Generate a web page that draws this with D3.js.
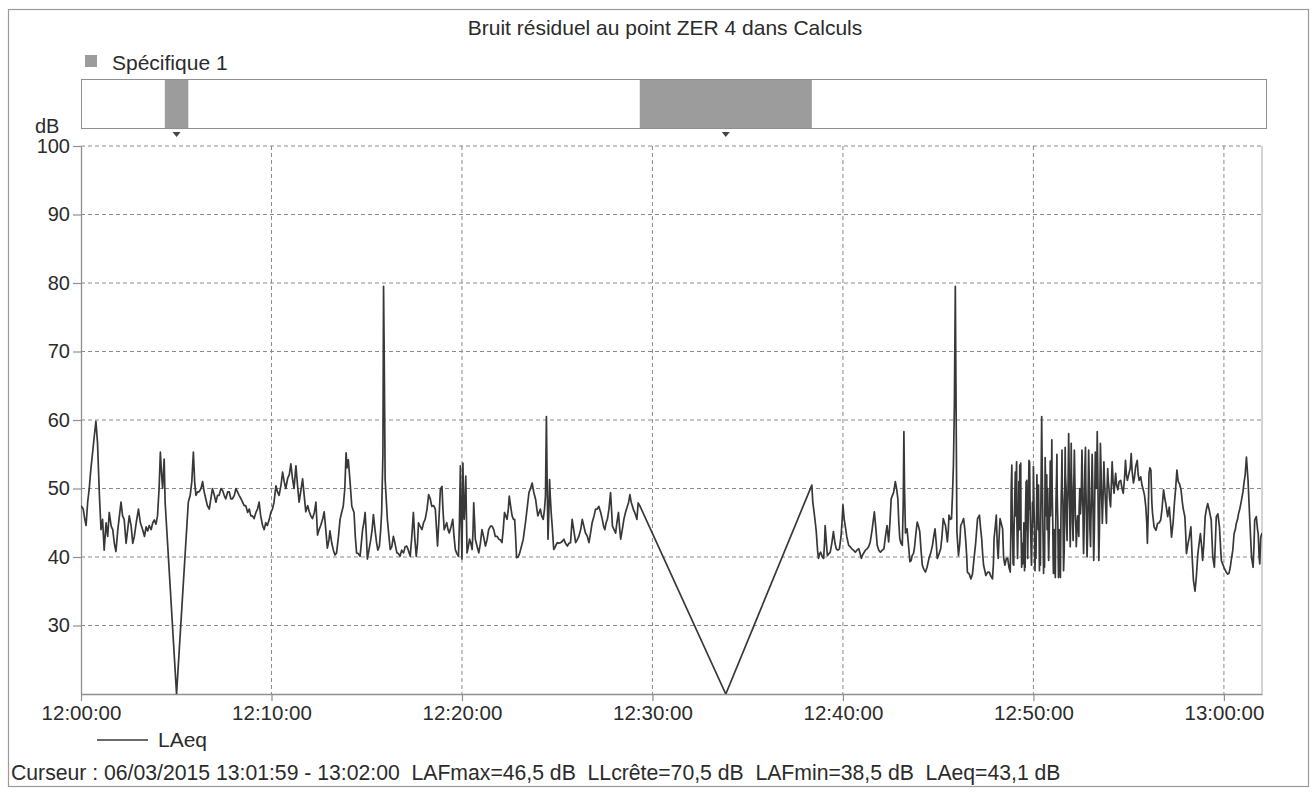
<!DOCTYPE html>
<html>
<head>
<meta charset="utf-8">
<script src="https://cdn.jsdelivr.net/npm/d3@7/dist/d3.min.js"></script>
<style>
  html, body { margin: 0; padding: 0; background: #fff; }
  svg { display: block; }
  text { font-family: "Liberation Sans", Arial, sans-serif; fill: #2b2b2b; }
</style>
</head>
<body>
<svg id="chart" width="1314" height="792"></svg>
<script>
// ---- Data ----------------------------------------------------------------
const chartTitle = "Bruit résiduel au point ZER 4 dans Calculs";
const seriesName = "LAeq";
const periodName = "Spécifique 1";
const cursorText = "Curseur : 06/03/2015 13:01:59 - 13:02:00  LAFmax=46,5 dB  LLcrête=70,5 dB  LAFmin=38,5 dB  LAeq=43,1 dB";

// time axis in seconds after 12:00:00
const timeDomain = [0, 3720];
const timeTicks = [0, 600, 1200, 1800, 2400, 3000, 3600];
const timeLabels = ["12:00:00", "12:10:00", "12:20:00", "12:30:00", "12:40:00", "12:50:00", "13:00:00"];

// level axis (dB)
const levelDomain = [20, 100];
const levelTicks = [30, 40, 50, 60, 70, 80, 90, 100];

// "Spécifique 1" coded periods [start s, end s]
const specificPeriods = [[264, 338], [1760, 2302]];

// LAeq trace: [seconds after 12:00:00, dB]
const laeq = [
  [0,47.5],[7,47],[12,45.5],[16,44.6],[21,48],[26,50],[31,52.8],[36,55],[42,57.7],[47,59.8],[52,56.7],[58,49],[63,44],[68,45.5],[73,41],[79,45],[84,43],[89,46.5],[95,44.5],[100,44],[105,42],[110,40.8],[116,44],[121,46],[126,48],[131,46],[136,45.5],[142,42],[147,44],[152,46],[158,44.5],[163,42],[168,43],[174,45],[181,47],[187,45],[194,44],[200,43],[205,44.4],[210,43.8],[215,44.6],[221,44],[226,45],[231,45.4],[236,44.8],[241,46],[246,50],[250,55.3],[254,52],[257,50],[262,54.3],[265,48],
  [301,20],
  [338,48],[344,49],[349,51],[354,55.3],[358,51],[362,49],[367,49.5],[372,49.5],[378,50],[383,51],[388,49.5],[393,48.5],[398,47.5],[404,47],[409,48.5],[414,50],[420,49],[425,48],[430,49],[435,49],[441,50],[446,49.7],[451,49],[456,48.5],[462,49.5],[467,49.5],[472,48.5],[477,48.5],[483,49],[488,50],[493,49.5],[498,49],[504,48.5],[509,48],[514,47.5],[519,47.5],[525,46.5],[530,47],[535,46],[540,46],[545,45.6],[551,46.5],[556,47],[561,48],[566,46],[572,44.6],[577,44],[582,45],[587,44.6],[593,45.5],[598,46.5],[603,47],[608,48],[614,50.4],[619,49.5],[624,49],[630,50.5],[635,52.4],[640,51],[645,50],[651,51.5],[656,52],[661,53.6],[666,51.5],[671,50],[677,53.3],[682,50.5],[687,48],[692,49.5],[698,51.4],[703,49],[708,46.6],[714,47.5],[719,46.6],[724,46],[729,45.6],[735,46.5],[740,48],[745,43.2],[750,44],[755,44.6],[761,45.5],[766,46.6],[771,44],[776,41.3],[781,42.5],
  [784,43.8],[790,42],[795,41],[800,40.3],[805,40.6],[811,43],[816,45.5],[821,46.5],[826,47.4],[831,50],[835,55.2],[838,53],[842,54.2],[847,51.3],[853,47.4],[860,46.5],[864,43],[868,40.6],[873,40.5],[879,40.1],[883,42],[887,44],[891,45],[895,46.5],[899,43],[902,39.7],[907,41],[913,42.6],[917,44],[921,46.2],[926,44],[931,42.1],[935,41],[940,41.6],[944,44],[947,46.5],[951,55],[953,79.5],[955,70],[958,51.3],[962,48],[965,45.5],[970,43],[974,41.1],[979,41.5],[984,43],[989,42],[995,40.6],[1000,40.5],[1005,40.1],[1010,41],[1016,40.6],[1021,41.5],[1026,41.6],[1031,41],[1037,40.1],[1042,43],[1047,46.5],[1051,43],[1056,40.1],[1060,42],[1063,45],[1068,44.5],[1074,44],[1079,45],[1084,45.5],[1090,47],[1095,49.1],[1100,48.5],[1105,47.4],[1111,47.5],[1116,47],[1120,44],[1123,41.6],[1127,45],[1132,49.9],[1137,50.3],[1140,47],[1144,44],[1148,44.5],[1152,45],[1156,44],[1160,43.5],[1166,44.5],[1171,45.5],[1175,43],[1179,41.1],[1184,40.5],[1189,40.1],[1192,45],[1195,53.3],[1198,44],[1200,39.7],[1203,53.7],[1205,48],[1207,45.5],[1210,49],[1212,51.8],[1214,46],[1216,40.6],[1220,41.5],[1224,42.6],[1228,42],[1232,41.1],[1235,44],[1237,47.9],[1240,45],[1242,42.6],[1248,41.5],[1253,40.6],[1258,42],[1263,44],[1268,43],[1274,41.6],[1279,42.5],[1284,44],[1290,44.5],[1295,44.5],[1300,44],[1305,43],[1311,43],[1316,42.6],[1321,42.5],[1326,42.1],[1330,44],[1334,46.5],[1338,46],[1342,45.5],[1346,47],[1349,48.9],[1353,47.5],[1358,46],[1362,45.5],[1366,45.5],[1369,43],[1372,39.9],[1377,40],[1382,40.6],[1387,41.5],[1393,42.6],[1397,44],[1400,45],[1405,47],[1411,49.4],[1416,50],[1421,50.8],[1426,49.5],[1432,48.4],[1436,47],[1439,46],[1443,46.5],[1447,47],[1451,46],[1456,45.5],[1460,47],[1463,48.9],[1466,60.5],[1468,52],[1471,42.6],[1474,47],[1476,51.3],[1478,49],[1481,46.5],[1485,44],[1489,41.1],[1494,41.5],[1500,42.1],[1505,42],[1511,42.1],[1516,42.3],[1521,42.6],[1526,42],[1532,41.6],[1537,42],[1542,42.1],[1547,45.5],[1552,44],[1558,42.1],[1563,42.5],[1568,43],[1574,44],[1579,45.5],[1584,44.5],[1589,43.5],[1595,43],[1600,42.1],[1605,43.5],[1610,45],[1616,46],[1621,47],[1626,47],[1631,47.4],[1637,46.5],[1642,45.5],[1646,44.5],[1650,44],[1654,45],[1658,45.5],[1663,47],[1668,49.4],[1671,47],[1674,44.5],[1679,44],[1684,43.5],[1688,45],[1693,46.5],[1697,44],[1700,42.6],[1705,44],[1710,45.5],[1715,46.5],[1721,47.4],[1725,48],[1729,49.1],[1733,48],[1737,47.4],[1741,46.8],[1744,46.5],[1748,46],[1751,45.5],[1755,47.9],[1760,47.5],
  [2031,20],
  [2302,50.5],[2305,48],[2309,46.6],[2313,45],[2316,43.7],[2320,41],[2323,39.8],[2327,40.5],[2330,40.7],[2335,40],[2339,39.8],[2342,42],[2344,44.6],[2348,42],[2351,40.2],[2356,40.5],[2360,40.7],[2365,42],[2370,43.7],[2375,42],[2379,41.2],[2384,41],[2389,41.2],[2394,43],[2397,45],[2400,47.6],[2404,45.5],[2407,44.6],[2412,43],[2418,41.7],[2423,41.5],[2428,41.2],[2433,41],[2439,40.7],[2444,41],[2450,41.2],[2454,40.5],[2458,39.8],[2462,40.3],[2467,40.7],[2471,41],[2476,41.2],[2481,41.5],[2486,42.2],[2492,44],[2499,46.6],[2504,44],[2508,41.7],[2513,41],[2518,40.7],[2524,41],[2529,41.2],[2534,43],[2539,44.6],[2544,42.2],[2548,45],[2552,48.5],[2556,49],[2560,49.5],[2565,51],[2569,50],[2573,48.5],[2576,45],[2579,42.7],[2583,42],[2587,41.7],[2590,48],[2592,58.3],[2594,50],[2597,43.5],[2602,44.1],[2606,42],[2611,39.3],[2615,39.5],[2618,40.2],[2622,40.5],[2625,41.2],[2630,43.5],[2634,45.1],[2638,44.5],[2642,43.7],[2646,41],[2650,38.8],[2655,38.2],[2660,37.8],[2665,38.5],[2671,39.8],[2676,40.5],[2682,41.7],[2686,43],[2690,44.1],[2694,42],[2697,39.8],[2703,40.5],[2708,41.2],[2712,43],[2716,45.6],[2720,45],[2723,44.6],[2726,43.5],[2729,42.2],[2732,44],[2734,46.1],[2738,45.5],[2742,45.6],[2745,49],[2748,53.4],[2751,62],[2754,79.5],[2756,65],[2759,43.7],[2762,41.5],[2764,40.2],[2768,42],[2771,44.6],[2775,45],[2780,45.6],[2784,44],[2787,42.2],[2790,40],[2792,37.8],[2798,37.5],[2803,36.8],[2808,37.5],[2813,39.8],[2818,42],[2824,45.6],[2830,46.1],[2834,44],[2837,42.7],[2840,40.5],[2843,38.8],[2847,38],[2850,37.3],[2856,37.8],[2861,37.8],[2866,37.2],[2871,36.8],[2874,39],[2876,42.7],[2880,44.5],[2883,46.1],[2886,42],[2889,39.8],[2892,43],[2895,45.6],
  [2903,44.1],[2906,40],[2910,38.8],[2915,39.8],[2919,39.8],[2923,38.5],
  [2927,37.8],[2929,44],[2930,50],[2932,53.4],[2933,47],[2935,42],[2936,39],[2938,38.8],[2939,44],[2941,48],[2943,52.4],[2944,46],[2945,50],[2947,53.9],[2948,45],[2950,39.8],[2951,42],[2953,47],[2954,51],[2956,44],[2957,53.4],[2958,49],[2960,53.7],[2961,44],[2963,38.5],[2964,41],[2966,42],[2967,39],[2969,42.7],[2970,45],[2972,38],[2973,42],[2974,38.5],[2975,46],[2977,51],[2978,44],[2979,51.2],[2981,43],[2982,39.8],[2984,48],[2986,54.1],[2987,47],[2988,53.9],[2990,46],[2992,42.4],[2993,40],[2994,38.8],[2996,44],[2997,48],[2999,45],[3000,53.2],[3002,47],[3003,45],[3004,41],[3005,38],[3007,43],[3008,39.8],[3010,47],[3011,52],[3012,45],[3014,50.5],[3015,44],[3016,50.5],[3018,43],[3019,38],[3020,42],[3022,38.8],[3023,45],[3024,50],[3025,55],[3026,60.5],[3027,56],[3028,52],[3030,44],[3032,37.6],[3033,41],[3035,38.5],[3036,46],[3037,54.5],[3039,49],[3041,46],[3042,52],[3043,44],[3045,50],[3046,45],[3048,39.5],[3049,42],[3050,44],[3052,50],[3053,54],[3054,46],[3055,48],[3057,52],[3058,57.1],[3059,50],[3061,45],[3062,40],[3063,37.6],[3065,44],[3066,40],[3068,38],[3069,37],[3070,43],[3071,48],[3073,52],[3074,55],[3075,49],[3077,45],[3078,40],[3079,37],[3081,44],[3082,42],[3083,39],[3085,37],[3086,42],[3087,47],[3089,52],[3090,55.6],[3091,50],[3093,48],[3094,42],[3095,38],[3097,41],[3098,45],[3099,51],[3100,56],[3101,52],[3103,50],[3104,45],[3106,42.4],[3107,47],[3109,50],[3110,54],[3111,58],[3113,52],[3114,48],[3115,44],[3116,41.5],[3118,50],[3119,56.6],[3120,52],[3122,49],[3123,45],[3125,42.4],[3126,46],[3127,50],[3128,53],[3129,55.6],[3131,50],[3132,46],[3134,44],[3135,41.5],[3137,44],[3139,46],[3141,45],[3143,43],[3144,47],[3146,50],[3147,48],[3148,46.3],[3150,48],[3151,50],[3152,53],[3153,55.6],[3155,50],[3156,47],[3157,43],[3158,40.5],[3160,45],[3161,49],[3162,53],[3164,56],[3165,51],[3167,46],[3168,42],[3169,40],[3171,44],[3172,48],[3173,52],[3174,55.6],[3176,51],[3177,47],[3178,44],[3180,41.5],[3181,45],[3183,49],[3184,52],[3185,55],[3187,50],[3188,46],[3189,42],[3190,39.5],[3192,44],[3193,48],[3194,52],[3195,55.3],[3197,52],[3198,50],[3200,54],[3201,58.3],[3203,52],[3204,47],[3205,43],[3206,39.5],[3208,44],[3209,48],[3210,52],[3211,56.6],[3213,53],[3214,50],[3216,47],[3217,44.9],[3219,48],[3220,50],[3222,53.9],[3224,51],[3226,49],[3228,47],[3230,44.9],[3232,50],[3234,52.9],[3236,51],[3238,50],[3240,48.5],[3243,47.3],
  [3248,53.9],[3251,51],[3254,49.3],[3259,52.2],[3262,50.5],[3266,49.8],[3270,51],[3275,51.2],[3279,50],[3283,49.3],[3287,51.5],[3290,54.1],[3293,52],[3296,51.2],[3301,52.2],[3305,53],[3308,55.1],[3311,52.5],[3315,50.8],[3318,51.5],[3322,53.2],[3327,54.1],[3330,52],[3333,51.2],[3338,51.7],[3342,50.5],[3346,49.8],[3350,49],[3354,47.3],[3357,45],[3359,42],[3362,47],[3364,52.2],[3367,53],[3370,52.7],[3373,48],[3375,46.5],[3380,44.4],[3386,43.9],[3391,44.9],[3396,45],[3401,45.4],[3405,47],[3410,49.8],[3414,48.5],[3417,47.8],[3423,45.9],[3428,47.3],[3432,45],[3435,42.9],[3440,45],[3444,47.8],[3448,50],[3452,52.7],[3456,51],[3460,50.7],[3465,49.8],[3469,48],[3472,47],[3477,45.9],[3480,43],[3482,40.5],[3487,42],[3491,42.9],[3496,44.4],[3500,40],[3504,36.6],[3509,35],[3513,37],[3518,40.5],[3522,42],[3526,43.4],[3530,41.5],[3533,39.5],[3537,42],[3541,45.9],[3545,47],[3549,47.8],[3554,46.8],[3560,45.4],[3563,42],[3565,40],[3570,38.5],[3573,42],[3576,45.9],[3581,46.3],[3586,44.4],[3590,41],[3592,39.5],[3596,39],[3600,38.5],[3607,37.8],[3612,37.5],[3616,37.6],[3620,38.5],[3623,39.5],[3628,41],[3632,43.4],[3636,44],[3639,44.9],[3643,45.5],[3646,46.3],[3650,47],[3655,48.2],[3660,49.5],[3663,50.7],[3667,52],[3671,54.6],[3674,52.5],[3676,51.2],[3681,45.9],[3684,43],[3687,40],[3692,38.5],[3695,42],[3697,45.4],[3702,45.9],[3706,44],[3708,43.4],[3711,40],[3713,39],[3716,42.9],[3720,43.5]
];

// ---- Layout --------------------------------------------------------------
const plot = { left: 81, right: 1262, top: 146, bottom: 694 };
const band = { top: 79, bottom: 128 };
const gridColor = "#8a8a8a";
const frameColor = "#8f8f8f";
const traceColor = "#383838";
const blockColor = "#9c9c9c";

const svg = d3.select("#chart");

const x = d3.scaleLinear().domain(timeDomain).range([plot.left, plot.right]);
const y = d3.scaleLinear().domain(levelDomain).range([plot.bottom, plot.top]);

// outer frame
svg.append("rect")
  .attr("x", 8.5).attr("y", 9.5).attr("width", 1300).attr("height", 777)
  .attr("fill", "none").attr("stroke", "#9a9a9a").attr("stroke-width", 1.2);

// title
svg.append("text")
  .attr("x", 665).attr("y", 35)
  .attr("text-anchor", "middle")
  .style("font-size", "21px")
  .text(chartTitle);

// period legend
svg.append("rect")
  .attr("x", 85).attr("y", 55).attr("width", 12).attr("height", 12)
  .attr("fill", blockColor);
svg.append("text")
  .attr("x", 112).attr("y", 70)
  .style("font-size", "21px")
  .text(periodName);

// period band
svg.append("rect")
  .attr("x", plot.left + 0.5).attr("y", band.top + 0.5)
  .attr("width", plot.right - plot.left + 4).attr("height", band.bottom - band.top)
  .attr("fill", "#fff").attr("stroke", frameColor).attr("stroke-width", 1);

svg.append("g").selectAll("rect")
  .data(specificPeriods)
  .join("rect")
  .attr("x", d => x(d[0]))
  .attr("y", band.top + 1)
  .attr("width", d => x(d[1]) - x(d[0]))
  .attr("height", band.bottom - band.top - 1)
  .attr("fill", blockColor);

svg.append("g").selectAll("path")
  .data(specificPeriods)
  .join("path")
  .attr("d", d => {
    const cx = x((d[0] + d[1]) / 2), ty = band.bottom + 4;
    return `M${cx - 4},${ty} L${cx + 4},${ty} L${cx},${ty + 5} Z`;
  })
  .attr("fill", "#444");

// grid
const grid = svg.append("g");
grid.selectAll("line.h")
  .data(levelTicks)
  .join("line")
  .attr("class", "h")
  .attr("x1", plot.left).attr("x2", plot.right)
  .attr("y1", d => y(d)).attr("y2", d => y(d))
  .attr("stroke", gridColor).attr("stroke-width", 1)
  .attr("stroke-dasharray", "4,3");
grid.selectAll("line.v")
  .data(timeTicks.filter(t => t > timeDomain[0]))
  .join("line")
  .attr("class", "v")
  .attr("x1", d => x(d)).attr("x2", d => x(d))
  .attr("y1", plot.top).attr("y2", plot.bottom)
  .attr("stroke", gridColor).attr("stroke-width", 1)
  .attr("stroke-dasharray", "4,3");

// right edge of plot
svg.append("line")
  .attr("x1", plot.right).attr("x2", plot.right)
  .attr("y1", plot.top).attr("y2", plot.bottom)
  .attr("stroke", "#aaa").attr("stroke-width", 1);

// axes
const xAxis = d3.axisBottom(x)
  .tickValues(timeTicks)
  .tickFormat((d, i) => timeLabels[i])
  .tickSize(7).tickSizeOuter(0).tickPadding(4);
const gx = svg.append("g")
  .attr("transform", `translate(0,${plot.bottom})`)
  .call(xAxis);
gx.selectAll("text").style("font-size", "20.5px").attr("fill", "#2b2b2b");

const yAxis = d3.axisLeft(y)
  .tickValues(levelTicks)
  .tickFormat(d3.format("d"))
  .tickSize(8).tickSizeOuter(0).tickPadding(3);
const gy = svg.append("g")
  .attr("transform", `translate(${plot.left},0)`)
  .call(yAxis);
gy.selectAll("text").style("font-size", "20px").attr("fill", "#2b2b2b");

[gx, gy].forEach(g => {
  g.select(".domain").attr("stroke", frameColor).attr("stroke-width", 1.3);
  g.selectAll(".tick line").attr("stroke", frameColor).attr("stroke-width", 1.2);
});

// unit label
svg.append("text")
  .attr("x", 35).attr("y", 133)
  .style("font-size", "20px")
  .text("dB");

// trace
svg.append("clipPath").attr("id", "plotClip")
  .append("rect")
  .attr("x", plot.left).attr("y", plot.top - 2)
  .attr("width", plot.right - plot.left).attr("height", plot.bottom - plot.top + 2);

const line = d3.line()
  .x(d => x(d[0]))
  .y(d => y(d[1]));

svg.append("path")
  .datum(laeq)
  .attr("clip-path", "url(#plotClip)")
  .attr("d", line)
  .attr("fill", "none")
  .attr("stroke", traceColor)
  .attr("stroke-width", 1.7)
  .attr("stroke-linejoin", "round");

// series legend
svg.append("line")
  .attr("x1", 97).attr("x2", 148)
  .attr("y1", 740).attr("y2", 740)
  .attr("stroke", traceColor).attr("stroke-width", 1.3);
svg.append("text")
  .attr("x", 158).attr("y", 747)
  .style("font-size", "21px")
  .text(seriesName);

// cursor readout
svg.append("text")
  .attr("x", 11).attr("y", 780)
  .style("font-size", "21.2px")
  .attr("xml:space", "preserve")
  .style("white-space", "pre")
  .text(cursorText);
</script>
</body>
</html>
